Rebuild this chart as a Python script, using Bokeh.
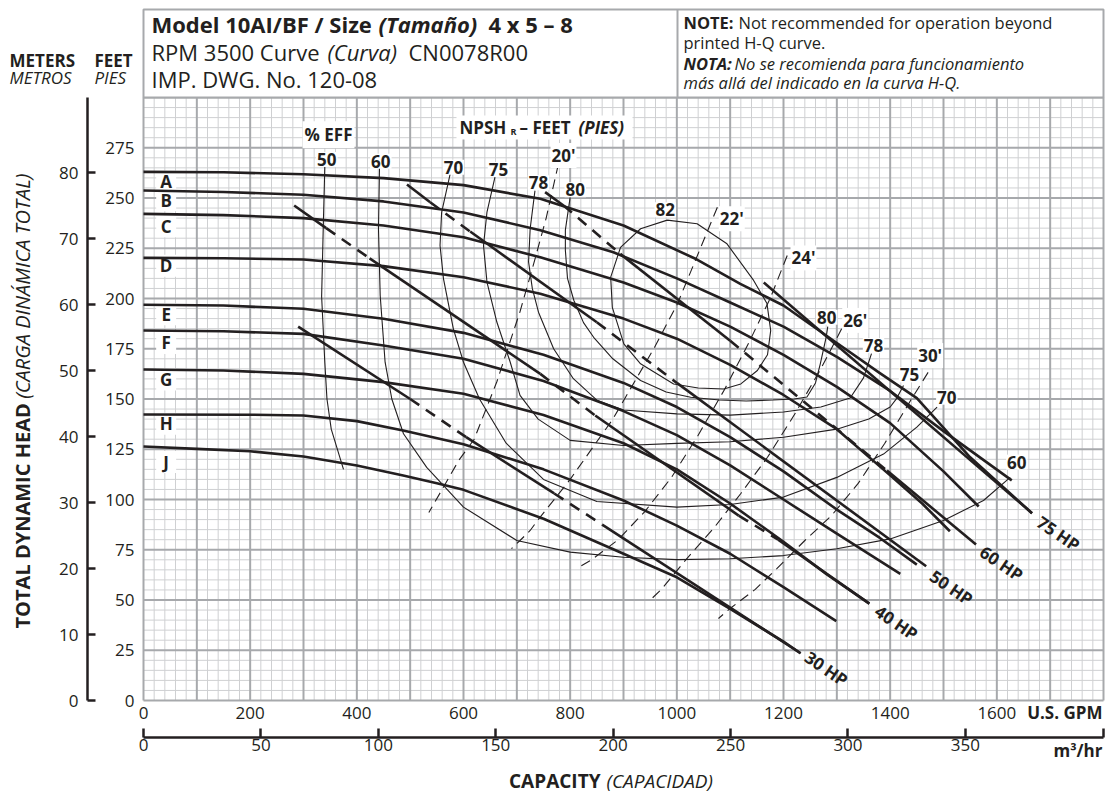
from bokeh.plotting import figure
from bokeh.models import Range1d, LinearAxis, FixedTicker, Label
from bokeh.embed import file_html
from bokeh.resources import INLINE
from bokeh.core.properties import value

INK = "#231f20"
FONT = "Open Sans"
FT_PER_M = 3.28084
GPM_PER_M3H = 4.402868

# ---------------- data (GPM, feet) ----------------
ft_ticks = [0, 25, 50, 75, 100, 125, 150, 175, 200, 225, 250, 275]
m_ticks = [0, 10, 20, 30, 40, 50, 60, 70, 80]
gpm_ticks = [0, 200, 400, 600, 800, 1000, 1200, 1400, 1600]
m3h_ticks = [0, 50, 100, 150, 200, 250, 300, 350]

# head-capacity curves, impeller diameters A..J
A_q = [0, 150, 300, 450, 600, 744, 900, 1037, 1119, 1200, 1294, 1380, 1450, 1550, 1666]
A_h = [263, 262.8, 261.8, 259.9, 256.4, 249.6, 236.3, 219.5, 207.3, 196.5, 179, 163, 150.4, 121, 93.2]
B_q = [0, 150, 300, 450, 600, 744, 881, 1000, 1100, 1200, 1300, 1400, 1500, 1628]
B_h = [253.7, 253, 251.6, 248.3, 242.8, 234, 223, 210, 198, 186, 171, 154, 134, 109.5]
C_q = [0, 150, 300, 450, 600, 744, 900, 1000, 1100, 1200, 1300, 1400, 1500, 1566]
C_h = [242.1, 241.5, 240, 236.3, 230.5, 220.5, 208, 198, 186, 172, 156, 138, 114, 96.5]
D_q = [0, 150, 300, 450, 600, 744, 900, 1000, 1100, 1200, 1300, 1400, 1460, 1512]
D_h = [220.2, 220, 219.4, 216.1, 210.6, 202.4, 190, 180, 167, 152, 135, 112, 98, 84.2]
E_q = [0, 150, 300, 450, 600, 750, 900, 1000, 1100, 1200, 1300, 1380, 1450]
E_h = [196.9, 196.5, 194.9, 189.9, 182.9, 172, 158, 146, 131, 114, 95, 81, 67.6]
F_q = [0, 150, 300, 450, 600, 750, 900, 1000, 1100, 1200, 1300, 1419]
F_h = [184.1, 183.7, 182.4, 176.6, 170, 159, 144, 132, 117, 100, 83, 63]
G_q = [0, 150, 300, 450, 600, 750, 900, 1000, 1100, 1200, 1280, 1361]
G_h = [164.7, 164.2, 162.5, 158.4, 152.6, 142, 128, 115, 98, 79, 63, 48.2]
H_q = [0, 200, 300, 400, 487, 600, 750, 900, 1000, 1100, 1200, 1299]
H_h = [142.3, 142.2, 141.8, 139, 134.3, 127.5, 115, 99.5, 87, 73, 56.4, 39.5]
J_q = [0, 100, 200, 300, 400, 487, 550, 600, 750, 900, 1000, 1100, 1200, 1232]
J_h = [126.4, 125.2, 124, 121.4, 116.9, 111.9, 108.1, 104.8, 90.4, 73, 61.3, 45.6, 29.3, 23.5]
curve_names = ["A", "B", "C", "D", "E", "F", "G", "H", "J"]
curve_label_q = [42.5] * 9
curve_label_h = [258.2, 248.9, 236.0, 216.3, 192.2, 177.9, 159.7, 137.7, 118.6]

# efficiency contours (%)
eff50_q = [340, 337, 334, 340, 344, 352, 375]
eff50_h = [266, 235, 201, 168, 150, 135, 115]
eff60_q = [442.5, 440.6, 443.8, 453, 465.6, 487.5, 531, 600, 700, 800, 900, 1000, 1100, 1200, 1300, 1400, 1500, 1575, 1625]
eff60_h = [265.3, 234.7, 201.5, 168.3, 150, 132.7, 116, 96.2, 79.6, 73.8, 71.3, 70.1, 70.5, 72.1, 75.5, 80.4, 89.6, 99.5, 111]
eff70_q = [575, 559, 556, 562.5, 581, 600, 630, 680, 750, 850, 1000, 1100, 1200, 1300, 1387.5, 1450, 1488]
eff70_h = [262, 242.9, 226.4, 209.8, 184.9, 168.3, 150, 128, 110, 99, 96.2, 97.5, 101.2, 111, 122.6, 136, 146]
eff75_q = [659, 644, 637.5, 644, 662.5, 687.5, 706, 740, 800, 900, 1000, 1100, 1200, 1300, 1360, 1400, 1412, 1425]
eff75_h = [260.4, 243, 226.4, 208.2, 188.3, 168.4, 151.8, 140, 129.4, 126.9, 127.9, 128.7, 131, 135, 140, 146, 150.2, 156.7]
eff78_q = [734, 725, 722, 729, 740.6, 769, 806, 850, 900, 1000, 1100, 1200, 1270, 1325, 1350, 1365]
eff78_h = [253.7, 234.7, 218.2, 205, 193.2, 175, 160.1, 149.4, 144.5, 142.6, 142, 143.5, 146, 150.5, 160.5, 172.6]
eff80_q = [800, 791, 791, 795, 807, 825, 844, 880, 932, 980, 1026, 1080, 1130, 1180, 1220, 1244, 1260, 1269, 1280, 1283]
eff80_h = [250.4, 234, 224, 210, 199, 188, 180.7, 170, 159.2, 153.5, 150.9, 149.5, 149, 149.5, 150, 151, 158, 167.5, 180.8, 186]
eff82_q = [982, 1038, 1094, 1144, 1169, 1176, 1170, 1151, 1120, 1088, 1040, 994, 932, 900.6, 879, 876, 894.4, 932, 982]
eff82_h = [239, 237.2, 227.2, 209, 197.5, 184, 172, 164.2, 157.5, 155, 155.5, 157.5, 167.5, 177.4, 195.6, 210.6, 225.4, 234.7, 239]

# NPSHr lines (feet)
npsh20_q = [778, 755, 731, 706, 662.5, 620, 591, 535]
npsh20_h = [267, 240, 216.7, 193.5, 158.6, 130, 119.4, 93.5]
npsh22_q = [1076, 1001, 958, 880, 800, 740, 725, 706, 690]
npsh22_h = [245.4, 197.3, 175.6, 140, 110, 90, 84.6, 79.6, 75.6]
npsh24_q = [1207, 1175, 1135, 1090, 1040, 990, 940, 890, 840, 812]
npsh24_h = [221.4, 200, 178, 155, 132, 111, 94, 80, 70, 65.7]
npsh26_q = [1309, 1270, 1220, 1170, 1120, 1070, 1020, 972, 953]
npsh26_h = [184.9, 165, 142, 121, 103, 86, 71, 55.6, 50.7]
npsh30_q = [1487, 1440, 1390, 1340, 1290, 1240, 1187, 1147, 1100, 1078]
npsh30_h = [170, 150, 128, 108, 92, 79.6, 65.5, 55.3, 45.8, 40.8]

# horsepower lines: solid and dashed pieces (GPM, feet)
hp30_solid = [[(290, 186), (500, 150)], [(605, 131), (770, 103)], [(860, 87.5), (1232, 23.5)]]
hp30_dash = [[(500, 150), (605, 131)], [(770, 103), (860, 87.5)]]
hp40_solid = [[(282.5, 246.3), (342.5, 235)], [(424, 220), (744, 162.5)], [(847, 141.8), (1116, 92)], [(1190, 80), (1361, 48.2)]]
hp40_dash = [[(342.5, 235), (424, 220)], [(744, 162.5), (847, 141.8)], [(1116, 92), (1190, 80)]]
hp50_solid = [[(494, 256.7), (537.5, 247.9)], [(612.5, 233.3), (850, 188.2)], [(1000, 158), (1467.5, 66.8)]]
hp50_dash = [[(537.5, 247.9), (612.5, 233.3)], [(850, 188.2), (1000, 158)]]
hp60_solid = [[(753, 252.9), (787.5, 246.3)], [(894, 222.2), (1100, 179)], [(1394, 114.4), (1561, 77.6)]]
hp60_dash = [[(787.5, 246.3), (894, 222.2)], [(1100, 179), (1394, 114.4)]]
hp75_solid = [[(1163, 208), (1666, 93.2)]]
hp75_dash = []
hp_names = ["75 HP", "60 HP", "50 HP", "40 HP", "30 HP"]
hp_label_q = [1715.6, 1608.8, 1515, 1411.9, 1280.6]
hp_label_h = [83.1, 68.2, 56.2, 38.8, 15.9]

# in-chart labels (GPM, feet)
eff_labels = [("50", 343.7, 269.2), ("60", 445, 268.3), ("70", 581.3, 265.3), ("75", 665.6, 264.2),
              ("78", 740.6, 257.6), ("80", 809.5, 254.1), ("82", 978.2, 244.1),
              ("80", 1281.2, 190.7), ("78", 1368.8, 176.6), ("75", 1436.3, 162), ("70", 1506.2, 150.9),
              ("60", 1637.5, 118.6)]
npsh_labels = [("20'", 787.5, 271.1), ("22'", 1103, 239.7), ("24'", 1237.5, 220.2),
               ("26'", 1334.5, 189.1), ("30'", 1475, 171.6)]

# ---------------- figure (frame covers whole canvas) ----------------
W, H = 1105, 798
PX_PER_GPM = 960 / 1800
PX_PER_FT = 2.01


def gx(px):
    return (px - 143) / PX_PER_GPM


def fy(py):
    return (700 - py) / PX_PER_FT


p = figure(width=W, height=H, x_range=Range1d(gx(0), gx(W)), y_range=Range1d(fy(H), fy(0)),
           output_backend="svg", toolbar_location=None,
           min_border_left=0, min_border_right=0, min_border_top=0, min_border_bottom=0)
p.outline_line_color = None
p.background_fill_color = "white"
p.border_fill_color = "white"
p.xgrid.grid_line_color = None
p.ygrid.grid_line_color = None

# grid paper (0..1800 GPM, 0..300 ft)
GRID_MINOR = "#cfd0d2"
GRID_MAJOR = "#a7a9ac"
minor_q = [q for q in range(0, 1801, 20) if q % 100]
major_q = list(range(0, 1801, 100))
minor_h = [h for h in range(0, 301, 5) if h % 25]
major_h = list(range(0, 301, 25))
p.segment(x0=minor_q, y0=[0] * len(minor_q), x1=minor_q, y1=[300] * len(minor_q), line_color=GRID_MINOR, line_width=1)
p.segment(x0=[0] * len(minor_h), y0=minor_h, x1=[1800] * len(minor_h), y1=minor_h, line_color=GRID_MINOR, line_width=1)
p.segment(x0=major_q, y0=[0] * len(major_q), x1=major_q, y1=[300] * len(major_q), line_color=GRID_MAJOR, line_width=2)
p.segment(x0=[0] * len(major_h), y0=major_h, x1=[1800] * len(major_h), y1=major_h, line_color=GRID_MAJOR, line_width=2)


def style_labels(ax, size="17px"):
    ax.major_label_text_font = FONT
    ax.major_label_text_font_size = size
    ax.major_label_text_color = INK
    ax.minor_tick_line_color = None


# feet axis
ya = p.yaxis[0]
ya.ticker = FixedTicker(ticks=ft_ticks)
ya.fixed_location = 0
ya.axis_line_color = None
ya.major_tick_line_color = None
ya.major_label_standoff = 3
style_labels(ya)

# meters axis
p.extra_y_ranges = {"m": Range1d(fy(H) / FT_PER_M, fy(0) / FT_PER_M)}
ma = LinearAxis(y_range_name="m", ticker=FixedTicker(ticks=m_ticks), bounds=(0, 300 / FT_PER_M),
                fixed_location=gx(87))
ma.axis_line_color = INK
ma.axis_line_width = 2.5
ma.major_tick_in = 8
ma.major_tick_out = 0
ma.major_tick_line_width = 2.5
ma.major_tick_line_color = INK
ma.major_label_standoff = 9
style_labels(ma)
p.add_layout(ma, "left")

# GPM axis
xa = p.xaxis[0]
xa.ticker = FixedTicker(ticks=gpm_ticks)
xa.fixed_location = 0
xa.axis_line_color = None
xa.major_tick_line_color = None
xa.major_label_standoff = 0
style_labels(xa)

# m3/hr axis
p.extra_x_ranges = {"m3": Range1d(gx(0) / GPM_PER_M3H, gx(W) / GPM_PER_M3H)}
qa = LinearAxis(x_range_name="m3", ticker=FixedTicker(ticks=m3h_ticks, minor_ticks=[1800 / GPM_PER_M3H]),
                bounds=(0, 1800 / GPM_PER_M3H), fixed_location=fy(737))
qa.axis_line_color = INK
qa.axis_line_width = 2.5
qa.major_tick_in = 9
qa.major_tick_out = 0
qa.major_tick_line_width = 2.5
qa.major_tick_line_color = INK
qa.major_label_standoff = 1
style_labels(qa)
qa.minor_tick_in = 9
qa.minor_tick_out = 0
qa.minor_tick_line_width = 2.5
qa.minor_tick_line_color = INK
p.add_layout(qa, "below")

# header box
p.quad(left=0, right=1800, bottom=300, top=fy(9), fill_color="white", line_color=GRID_MAJOR, line_width=2)
p.segment(x0=gx(677), y0=300, x1=gx(677), y1=fy(9), line_color=GRID_MAJOR, line_width=2)

# white boxes behind the curve letters, then the letters
p.rect(x=curve_label_q, y=curve_label_h, width=20, height=22, width_units="screen", height_units="screen",
       fill_color="white", line_color=None)
p.text(x=curve_label_q, y=curve_label_h, text=curve_names, text_font=value(FONT), text_font_size="17px",
       text_font_style="bold", text_color=INK, text_align="center", text_baseline="middle")

# efficiency contours
for q, h in [(eff50_q, eff50_h), (eff60_q, eff60_h), (eff70_q, eff70_h), (eff75_q, eff75_h),
             (eff78_q, eff78_h), (eff80_q, eff80_h), (eff82_q, eff82_h)]:
    p.line(q, h, line_color=INK, line_width=1.1)

# NPSH lines
for q, h in [(npsh20_q, npsh20_h), (npsh22_q, npsh22_h), (npsh24_q, npsh24_h),
             (npsh26_q, npsh26_h), (npsh30_q, npsh30_h)]:
    p.line(q, h, line_color=INK, line_width=1.1, line_dash="10 6")

# head curves
for q, h in [(A_q, A_h), (B_q, B_h), (C_q, C_h), (D_q, D_h), (E_q, E_h), (F_q, F_h),
             (G_q, G_h), (H_q, H_h), (J_q, J_h)]:
    p.line(q, h, line_color=INK, line_width=2.6, line_join="round")

# HP lines
for pieces, dash in [(hp30_solid, "solid"), (hp40_solid, "solid"), (hp50_solid, "solid"),
                     (hp60_solid, "solid"), (hp75_solid, "solid"),
                     (hp30_dash, "11 8"), (hp40_dash, "11 8"), (hp50_dash, "11 8"),
                     (hp60_dash, "11 8"), (hp75_dash, "11 8")]:
    if pieces:
        p.multi_line(xs=[[a[0], b[0]] for a, b in pieces], ys=[[a[1], b[1]] for a, b in pieces],
                     line_color=INK, line_width=2.6, line_dash=dash)


def lab(x, y, text, size="16px", style="bold", align="center", baseline="middle", angle=0.0,
        bg=None, pad=0):
    kw = {}
    if bg:
        kw = dict(background_fill_color=bg, padding=pad)
    p.add_layout(Label(x=x, y=y, text=text, text_font=FONT, text_font_size=size, text_font_style=style,
                       text_color=INK, text_align=align, text_baseline=baseline, angle=angle, **kw))


for t, q, h in eff_labels:
    lab(q, h, t, size="17px", bg="white", pad=1)
for t, q, h in npsh_labels:
    lab(q, h, t, size="17px", bg="white", pad=1)
lab(gx(328), fy(134.3), "% EFF", size="17px", bg="white", pad=2)

# NPSH title
p.quad(left=gx(456), right=gx(632), bottom=fy(139), top=fy(115), fill_color="white", line_color=None)
lab(gx(459), fy(127.3), "NPSH", size="17px", align="left")
lab(gx(510), fy(131), "R", size="9px", align="left")
lab(gx(519), fy(127.3), "– FEET", size="17px", align="left")
lab(gx(578), fy(127.3), "(PIES)", size="17px", style="bold italic", align="left")

for t, q, h in zip(hp_names, hp_label_q, hp_label_h):
    lab(q, h, t, size="17px", angle=-0.60)

# header texts
lab(gx(151), fy(23.3), "Model 10AI/BF / Size", size="22px", align="left")
lab(gx(378), fy(23.3), "(Tamaño)", size="22px", style="bold italic", align="left")
lab(gx(488), fy(23.3), "4 x 5 – 8", size="22px", align="left")
lab(gx(151), fy(51.7), "RPM 3500 Curve", size="22px", style="normal", align="left")
lab(gx(327), fy(51.7), "(Curva)", size="22px", style="italic", align="left")
lab(gx(408), fy(51.7), "CN0078R00", size="22px", style="normal", align="left")
lab(gx(151), fy(78.3), "IMP. DWG. No. 120-08", size="22px", style="normal", align="left")

lab(gx(683), fy(21.7), "NOTE:", size="16.5px", align="left")
lab(gx(738), fy(21.7), "Not recommended for operation beyond", size="16.5px", style="normal", align="left")
lab(gx(683), fy(41.7), "printed H-Q curve.", size="16.5px", style="normal", align="left")
lab(gx(683), fy(63.3), "NOTA:", size="16.5px", style="bold italic", align="left")
lab(gx(734), fy(63.3), "No se recomienda para funcionamiento", size="16.5px", style="italic", align="left")
lab(gx(683), fy(81.7), "más allá del indicado en la curva H-Q.", size="16.5px", style="italic", align="left")

# axis titles
lab(gx(9), fy(60), "METERS", size="17px", align="left")
lab(gx(94), fy(60), "FEET", size="17px", align="left")
lab(gx(9), fy(77), "METROS", size="17px", style="italic", align="left")
lab(gx(94), fy(77), "PIES", size="17px", style="italic", align="left")

lab(gx(22), fy(628), "TOTAL DYNAMIC HEAD", size="20px", align="left", angle=1.5708)
lab(gx(22), fy(173), "(CARGA DINÁMICA TOTAL)", size="20px", style="italic", align="right", angle=1.5708)

lab(gx(1102), fy(712), "U.S. GPM", size="17px", align="right")
lab(gx(1102), fy(750), "m³/hr", size="17px", align="right")
lab(gx(600), fy(780), "CAPACITY", size="19px", align="right")
lab(gx(606), fy(780), "(CAPACIDAD)", size="19px", style="italic", align="left")

open("out.html", "w").write(file_html(p, INLINE))
